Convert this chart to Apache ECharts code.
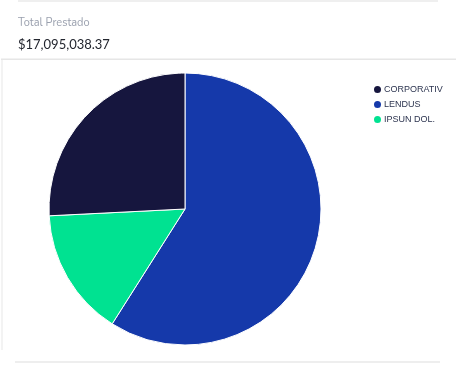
<!DOCTYPE html>
<html>
<head>
<meta charset="utf-8">
<script src="https://cdn.jsdelivr.net/npm/echarts@6/dist/echarts.min.js"></script>
<style>
html,body{margin:0;padding:0;background:#fff;}
#chart{width:456px;height:366px;}
</style>
</head>
<body>
<div id="chart"></div>
<script>
var categories = ['LENDUS', 'IPSUN DOL.', 'CORPORATIV'];
var values = [10085000, 2600000, 4410038.37];
var legendOrder = ['CORPORATIV', 'LENDUS', 'IPSUN DOL.'];
var colors = { 'LENDUS': '#1539AA', 'IPSUN DOL.': '#00E291', 'CORPORATIV': '#16163E' };
var titleText = 'Total Prestado';
var totalText = '$17,095,038.37';

var chart = echarts.init(document.getElementById('chart'), null, { renderer: 'canvas' });
chart.setOption({
  backgroundColor: '#ffffff',
  animation: false,
  title: [
    { text: titleText, left: 13, top: 13, textStyle: { fontFamily: 'Nunito, Lato, sans-serif', fontSize: 11, fontWeight: 'normal', color: '#9aa0ae' } },
    { text: totalText, left: 13, top: 33, textStyle: { fontFamily: 'Lato, sans-serif', fontSize: 13, fontWeight: 'normal', color: '#23262f' } }
  ],
  graphic: [
    { type: 'rect', shape: { x: 18, y: 0, width: 420, height: 2 }, style: { fill: '#efefef' } },
    { type: 'rect', shape: { x: 1, y: 58.5, width: 455, height: 1.5 }, style: { fill: '#e6e6e6' } },
    { type: 'rect', shape: { x: 1, y: 60, width: 2, height: 290 }, style: { fill: '#f3f3f3' } },
    { type: 'rect', shape: { x: 15, y: 361, width: 425, height: 2 }, style: { fill: '#eeeeee' } }
  ],
  legend: {
    orient: 'vertical',
    left: 367,
    top: 79,
    data: legendOrder,
    icon: 'circle',
    itemWidth: 9,
    itemHeight: 9,
    itemGap: 4,
    textStyle: { fontFamily: 'Liberation Sans, Arial, sans-serif', fontSize: 9, color: '#2d3550', padding: [0, 0, 0, -3] }
  },
  series: [{
    type: 'pie',
    center: [185, 209],
    radius: 136,
    startAngle: 90,
    clockwise: true,
    label: { show: false },
    labelLine: { show: false },
    itemStyle: { borderColor: '#ffffff', borderWidth: 1 },
    data: categories.map(function (c, i) {
      return { name: c, value: values[i], itemStyle: { color: colors[c] } };
    })
  }]
});
</script>
</body>
</html>
